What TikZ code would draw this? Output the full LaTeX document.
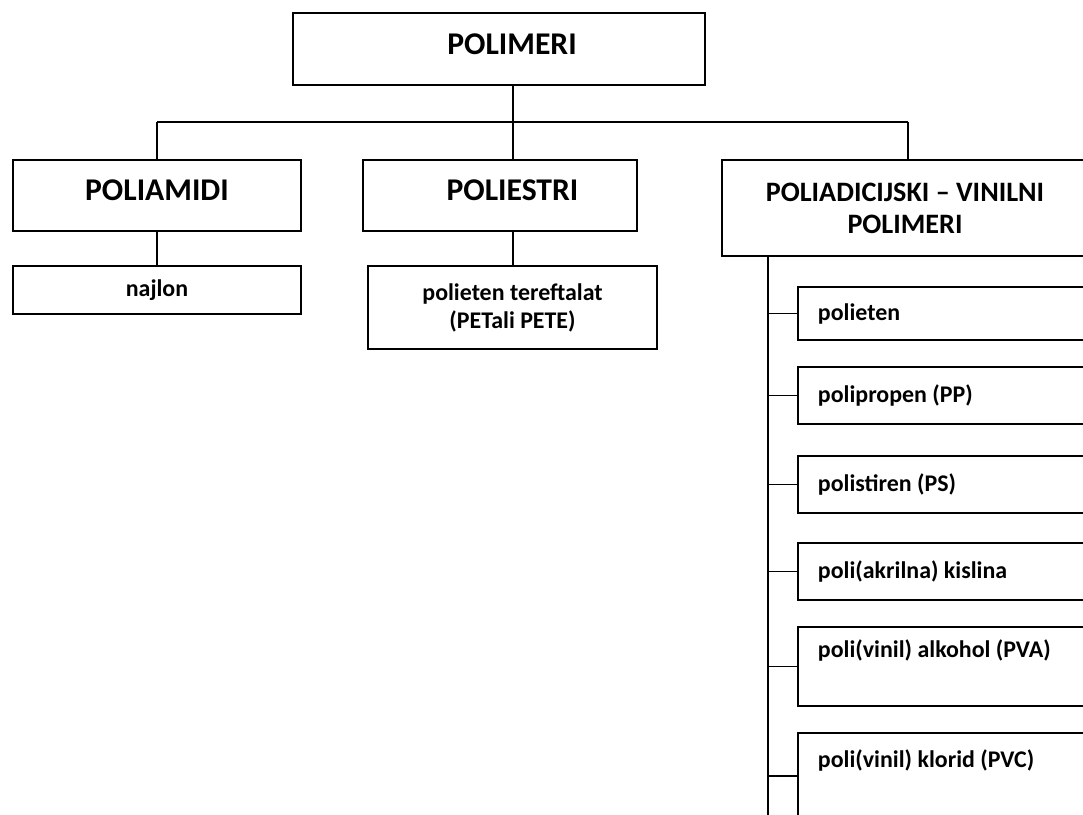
\documentclass[tikz,border=0pt]{standalone}
\usepackage{fontspec}
\setmainfont{Carlito}
\def\px{0.025cm}
\tikzset{
  box/.style={draw, line width=1.4pt, rectangle, inner sep=0pt, align=center,
    font=\bfseries\fontsize{22.5}{23}\selectfont},
  lift/.style={text depth=0.25cm},
  smallbox/.style={box, font=\bfseries\fontsize{17}{19.5}\selectfont},
  listbox/.style={smallbox, anchor=west, align=flush left, inner xsep=20*\px, text width=260*\px},
  link/.style={line width=1.4pt}
}

\begin{document}
\begin{tikzpicture}[x=0.025cm, y=-0.025cm]
	%%%%% START %%%%%
	\useasboundingbox (0,0) rectangle (1083,814);
	\clip (0,0) rectangle (1083,814);
	
	% top level
	\node[box, lift, minimum width=412*\px, minimum height=72*\px] (polimeri) at (499,49) {\hspace*{0.65cm}POLIMERI};
	
	\node[box, lift, minimum width=288*\px, minimum height=71*\px] (poliamidi) at (157,195.5) {POLIAMIDI};
	\node[box, lift, minimum width=274*\px, minimum height=71*\px] (poliestri) at (500,195.5) {\hspace*{0.62cm}POLIESTRI};
	\node[box, minimum width=366*\px, minimum height=96*\px, font=\bfseries\fontsize{20}{22.8}\selectfont] (vinil) at (905,208) {POLIADICIJSKI -- VINILNI\\POLIMERI};
	
	\node[smallbox, minimum width=288*\px, minimum height=48*\px] (najlon) at (157,290) {najlon};
	\node[smallbox, minimum width=289*\px, minimum height=83*\px, font=\bfseries\fontsize{17}{20}\selectfont] (pet) at (512.5,307.5) {polieten tereftalat\\(PETali PETE)};
	
	% vinyl list
	\node[listbox, minimum height=53*\px] (pe) at (797,313.5) {polieten};
	\node[listbox, minimum height=57*\px] (pp) at (797,395.5) {polipropen (PP)};
	\node[listbox, minimum height=57*\px] (ps) at (797,484.5) {polistiren (PS)};
	\node[listbox, minimum height=57*\px] (paa) at (797,571.5) {poli(akrilna) kislina};
	\node[listbox, minimum height=79*\px] (pva) at (797,666.5) {poli(vinil) alkohol (PVA)\\ \strut};
	\node[listbox, minimum height=86*\px] (pvc) at (797,776) {poli(vinil) klorid (PVC)\\ \strut};
	
	% connectors
	\coordinate (busL) at (157,122);
	\coordinate (bus) at (513,122);
	\coordinate (busR) at (908,122);
	\coordinate (trunk) at (768,830);
	
	\draw[link] (polimeri.south -| bus) -- (bus);
	\draw[link] (busL) -- (busR);
	\draw[link] (busL) -- (poliamidi.north);
	\draw[link] (bus) -- (bus |- poliestri.north);
	\draw[link] (busR) -- (busR |- vinil.north);
	
	\draw[link] (poliamidi) -- (najlon);
	\draw[link] (poliestri.south -| bus) -- (pet.north -| bus);
	
	\draw[link] (vinil.south -| trunk) -- (trunk);
	\foreach \n in {pe,pp,ps,paa,pva,pvc}
		\draw[link] (\n.west -| trunk) -- (\n.west);
	
	%%%%% END %%%%%
\end{tikzpicture}
\end{document}
